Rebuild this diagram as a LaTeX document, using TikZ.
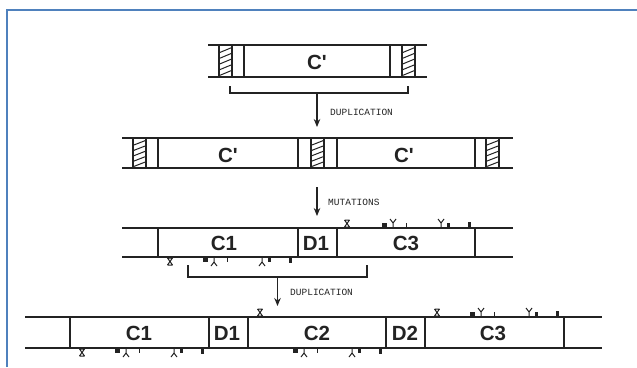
\documentclass[tikz,border=0pt]{standalone}
\usepackage{fontspec}
\setmainfont{Liberation Sans}
\newfontfamily\monof{Liberation Mono}
\usetikzlibrary{arrows.meta}
\definecolor{frameblue}{RGB}{79,129,189}
\definecolor{ink}{RGB}{35,35,35}
\newcommand\hatchbox[3]{%
  \draw[vline] (#1,#2) -- (#1,#3) (#1+13,#2) -- (#1+13,#3);
  \foreach \i in {0,...,4}{\draw[ink,line width=1pt] (#1+1,{#2+(\i+1.3)*(#3-#2)/5.6}) -- (#1+12,{#2+(\i+0.5)*(#3-#2)/5.6});}%
}
\begin{document}
\begin{tikzpicture}[x=1pt,y=-1pt,
  hline/.style={ink,line width=1.4pt},
  vline/.style={ink,line width=1.1pt},
  brk/.style={ink,line width=1.1pt},
  arr/.style={ink,line width=1.1pt,-{Stealth[length=8pt,width=6.5pt]}},
  lbl/.style={font=\fontsize{20.5}{20}\selectfont\bfseries,text=ink,inner sep=0pt},
  small/.style={font=\monof\fontsize{9.5}{10}\selectfont,text=ink,inner sep=0pt,anchor=west},
  mkA/.pic={\draw[ink,line width=1pt] (-2.5,-1)--(2.5,-8) (2.5,-1)--(-2.5,-8) (-2.5,-8)--(2.5,-8) (-2.5,-1)--(2.5,-1);},
  restset/.pic={
    \fill[ink] (45,0) rectangle (50,-5);
    \draw[ink,line width=1pt] (56,0)--(56,-5) (56,-5)--(53,-9) (56,-5)--(59,-9);
    \draw[ink,line width=0.9pt] (69,-1)--(69,-5);
    \draw[ink,line width=1pt] (104,0)--(104,-5) (104,-5)--(101,-9) (104,-5)--(107,-9);
    \fill[ink] (110,-1) rectangle (112.5,-5);
    \fill[ink] (130.5,-1) rectangle (133.5,-6);
  }]
\useasboundingbox (0,0) rectangle (637,367);
\fill[white] (0,0) rectangle (637,367);
\draw[frameblue,line width=2.2pt] (7,367) -- (7,10) -- (637,10);

% ---------- row 1 ----------
\draw[hline] (208,45) -- (427,45) (208,77) -- (427,77);
\hatchbox{219}{45}{77}
\hatchbox{402}{45}{77}
\draw[vline] (244,45) -- (244,77) (390,45) -- (390,77);
\node[lbl] (c0) at (317,62) {C\textquotesingle};
\draw[brk] (230,86) -- (230,93) -- (408,93) -- (408,86);
\coordinate (b1) at (317,93);
\coordinate (t2) at (317,127);
\draw[arr] (b1) -- (t2);
\node[small] (dup1) at (330,112) {DUPLICATION};

% ---------- row 2 ----------
\draw[hline] (122,138) -- (513,138) (122,168) -- (513,168);
\hatchbox{133}{138}{168}
\hatchbox{311}{138}{168}
\hatchbox{486}{138}{168}
\draw[vline] (158,138) -- (158,168) (298,138) -- (298,168) (337,138) -- (337,168) (475,138) -- (475,168);
\node[lbl] (c2a) at (228,155) {C\textquotesingle};
\node[lbl] (c2b) at (404,155) {C\textquotesingle};
\coordinate (m0) at (317,187);
\coordinate (m1) at (317,216);
\draw[arr] (m0) -- (m1);
\node[small] (mut) at (328,202) {MUTATIONS};

% ---------- row 3 ----------
\draw[hline] (122,228) -- (513,228) (122,257) -- (513,257);
\draw[vline] (158,228) -- (158,257) (298,228) -- (298,257) (337,228) -- (337,257) (475,228) -- (475,257);
\node[lbl] (c31) at (224,243) {C1};
\node[lbl] (d31) at (316,243) {D1};
\node[lbl] (c33) at (406,243) {C3};
\pic at (347,228) {mkA};
\pic at (337,228) {restset};
\pic[yscale=-1] at (170,257) {mkA};
\pic[yscale=-1] at (158,257) {restset};
\draw[brk] (188,265) -- (188,277) -- (367,277) -- (367,265);
\coordinate (b3) at (277.5,277);
\coordinate (t4) at (277.5,306);
\draw[arr] (b3) -- (t4);
\node[small] (dup2) at (290,292) {DUPLICATION};

% ---------- row 4 ----------
\draw[hline] (25,317) -- (602,317) (25,348) -- (602,348);
\draw[vline] (70,317) -- (70,348) (209,317) -- (209,348) (248,317) -- (248,348)
  (386,317) -- (386,348) (425,317) -- (425,348) (564,317) -- (564,348);
\node[lbl] (c41) at (139,333) {C1};
\node[lbl] (d41) at (227,333) {D1};
\node[lbl] (c42) at (317,333) {C2};
\node[lbl] (d42) at (405,333) {D2};
\node[lbl] (c43) at (493,333) {C3};
\pic[yscale=-1] at (82,348) {mkA};
\pic[yscale=-1] at (70,348) {restset};
\pic at (260,317) {mkA};
\pic[yscale=-1] at (248,348) {restset};
\pic at (437,317) {mkA};
\pic at (425,317) {restset};
\end{tikzpicture}
\end{document}
